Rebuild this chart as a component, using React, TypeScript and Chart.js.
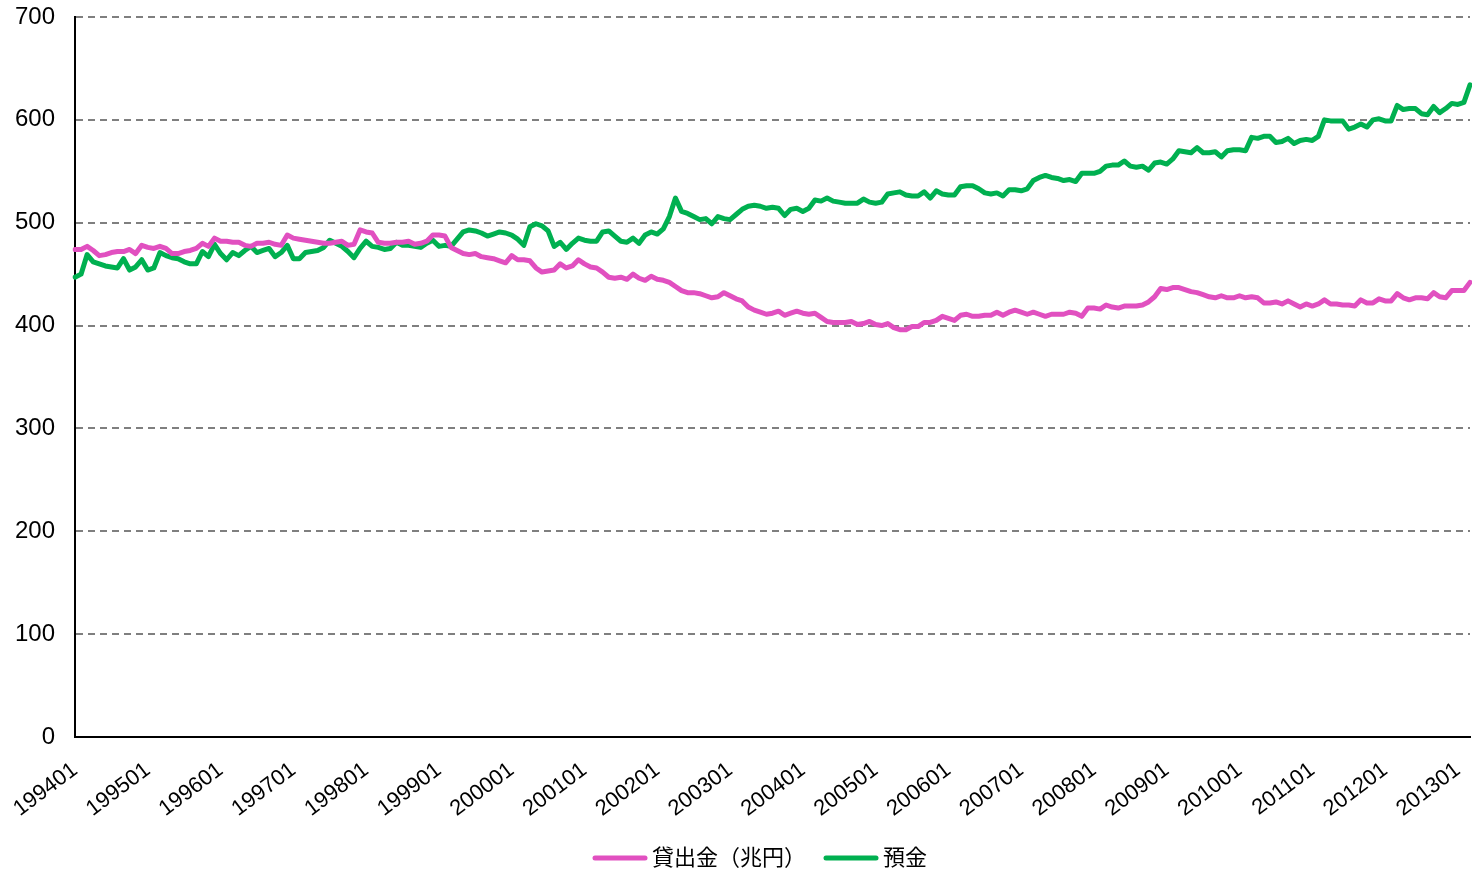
import React, { useEffect, useRef } from "react";
import { Chart, registerables } from "chart.js";

Chart.register(...registerables);

// Monthly categories 199401 .. 201303
const years: number[] = [1994, 1995, 1996, 1997, 1998, 1999, 2000, 2001, 2002, 2003, 2004, 2005, 2006, 2007, 2008, 2009, 2010, 2011, 2012, 2013];
const months: string[] = ["01", "02", "03", "04", "05", "06", "07", "08", "09", "10", "11", "12"];
const lastMonthCount = 3; // data for 2013 ends in March

const categories: string[] = [];
years.forEach((y, yi) => {
  const n = yi === years.length - 1 ? lastMonthCount : 12;
  for (let k = 0; k < n; k++) categories.push(`${y}${months[k]}`);
});

// 貸出金（兆円）
const loans: number[] = [
  474, 474, 477, 473, 468, 469, 471, 472, 472, 474, 470, 478,
  476, 475, 477, 475, 470, 470, 472, 473, 475, 480, 477, 485,
  482, 482, 481, 481, 478, 477, 480, 480, 481, 479, 478, 488,
  485, 484, 483, 482, 481, 480, 480, 481, 482, 478, 479, 493,
  491, 490, 481, 480, 480, 481, 481, 482, 479, 480, 482, 488,
  488, 487, 476, 473, 470, 469, 470, 467, 466, 465, 463, 461,
  468, 464, 464, 463, 456, 452, 453, 454, 460, 456, 458, 464,
  460, 457, 456, 452, 447, 446, 447, 445, 450, 446, 444, 448,
  445, 444, 442, 438, 434, 432, 432, 431, 429, 427, 428, 432,
  429, 426, 424, 418, 415, 413, 411, 412, 414, 410, 412, 414,
  412, 411, 412, 408, 404, 403, 403, 403, 404, 401, 402, 404,
  401, 400, 402, 398, 396, 396, 399, 399, 403, 403, 405, 409,
  407, 405, 410, 411, 409, 409, 410, 410, 413, 410, 413, 415,
  413, 411, 413, 411, 409, 411, 411, 411, 413, 412, 409, 417,
  417, 416, 420, 418, 417, 419, 419, 419, 420, 423, 428, 436,
  435, 437, 437, 435, 433, 432, 430, 428, 427, 429, 427, 427,
  429, 427, 428, 427, 422, 422, 423, 421, 424, 421, 418, 421,
  419, 421, 425, 421, 421, 420, 420, 419, 425, 422, 422, 426,
  424, 424, 431, 427, 425, 427, 427, 426, 432, 428, 427, 434,
  434, 434, 442,
];

// 預金
const deposits: number[] = [
  447, 450, 469, 462, 460, 458, 457, 456, 465, 454, 457, 464,
  454, 456, 471, 468, 466, 465, 462, 460, 460, 472, 467, 479,
  470, 464, 471, 468, 473, 477, 471, 473, 475, 467, 471, 478,
  465, 465, 471, 472, 473, 476, 483, 480, 477, 472, 466, 475,
  482, 477, 476, 474, 475, 481, 478, 478, 477, 476, 480, 483,
  477, 478, 477, 484, 491, 493, 492, 490, 487, 489, 491, 490,
  488, 484, 478, 496, 499, 497, 492, 477, 481, 474, 480, 485,
  483, 482, 482, 491, 492, 487, 482, 481, 485, 480, 488, 491,
  489, 494, 506, 524, 511, 509, 506, 503, 504, 499, 506, 504,
  503, 508, 513, 516, 517, 516, 514, 515, 514, 507, 513, 514,
  511, 514, 522, 521, 524, 521, 520, 519, 519, 519, 523, 520,
  519, 520, 528, 529, 530, 527, 526, 526, 530, 524, 531, 528,
  527, 527, 535, 536, 536, 533, 529, 528, 529, 526, 532, 532,
  531, 533, 541, 544, 546, 544, 543, 541, 542, 540, 548, 548,
  548, 550, 555, 556, 556, 560, 555, 554, 555, 551, 558, 559,
  557, 562, 570, 569, 568, 573, 568, 568, 569, 564, 570, 571,
  571, 570, 583, 582, 584, 584, 578, 579, 582, 577, 580, 581,
  580, 584, 600, 599, 599, 599, 591, 593, 596, 593, 600, 601,
  599, 599, 614, 610, 611, 611, 606, 605, 613, 607, 611, 616,
  615, 617, 634,
];

const seriesNames: string[] = ["貸出金（兆円）", "預金"];
const seriesColors: string[] = ["#E150C0", "#00B050"];
const yTicks: number[] = [0, 100, 200, 300, 400, 500, 600, 700];

const FONT = "'Liberation Sans', Arial, 'Noto Sans CJK JP', sans-serif";

// Legend drawn below the axis labels, using the chart's own datasets
const bottomLegend = {
  id: "bottomLegend",
  afterDraw: (chart: any) => {
    const ctx = chart.ctx;
    const y = 858;
    const lineLen = 50;
    const textGap = 7;
    const itemGap = 20;
    ctx.save();
    ctx.font = `22px ${FONT}`;
    ctx.textBaseline = "middle";
    ctx.textAlign = "left";
    let x = 595;
    chart.data.datasets.forEach((ds: any) => {
      ctx.strokeStyle = ds.borderColor;
      ctx.lineWidth = 5;
      ctx.lineCap = "round";
      ctx.beginPath();
      ctx.moveTo(x, y);
      ctx.lineTo(x + lineLen, y);
      ctx.stroke();
      x += lineLen + textGap;
      ctx.fillStyle = "#000";
      ctx.fillText(ds.label, x, y + 1);
      x += ctx.measureText(ds.label).width + itemGap;
    });
    ctx.restore();
  },
};

export default function App() {
  const canvasRef = useRef<HTMLCanvasElement | null>(null);

  useEffect(() => {
    document.body.style.margin = "0";
    const canvas = canvasRef.current;
    if (!canvas) return;
    const chart = new Chart(canvas, {
      type: "line",
      data: {
        labels: categories,
        datasets: [
          {
            label: seriesNames[0],
            data: loans,
            borderColor: seriesColors[0],
            backgroundColor: seriesColors[0],
            borderWidth: 5,
            pointRadius: 0,
            tension: 0,
            borderCapStyle: "round",
            borderJoinStyle: "round",
          },
          {
            label: seriesNames[1],
            data: deposits,
            borderColor: seriesColors[1],
            backgroundColor: seriesColors[1],
            borderWidth: 5,
            pointRadius: 0,
            tension: 0,
            borderCapStyle: "round",
            borderJoinStyle: "round",
          },
        ],
      },
      options: {
        animation: false,
        responsive: false,
        maintainAspectRatio: false,
        layout: { padding: { left: 0, right: 2, top: 17, bottom: 0 } },
        plugins: {
          legend: { display: false },
          tooltip: { enabled: false },
        },
        scales: {
          x: {
            type: "category",
            offset: false,
            grid: { display: false, drawTicks: false },
            border: { display: true, color: "#000", width: 2 },
            ticks: {
              autoSkip: false,
              minRotation: 37,
              maxRotation: 37,
              padding: 20,
              color: "#000",
              font: { family: FONT, size: 22 },
              callback: (_v: any, idx: number) => {
                const c = categories[idx];
                return c && c.endsWith("01") ? c : "";
              },
            },
            afterFit: (s: any) => {
              s.height = 136;
              s.paddingLeft = 0;
              s.paddingRight = 0;
            },
          },
          y: {
            min: 0,
            max: 700,
            afterBuildTicks: (s: any) => {
              s.ticks = yTicks.map((v) => ({ value: v }));
            },
            grid: {
              color: "#7F7F7F",
              lineWidth: 2,
              drawTicks: false,
            },
            border: { display: true, color: "#000", width: 2, dash: [7, 5] },
            ticks: {
              padding: 20,
              color: "#000",
              font: { family: FONT, size: 24 },
            },
            afterFit: (s: any) => {
              s.width = 75;
              s.paddingTop = 0;
              s.paddingBottom = 0;
            },
          },
        },
      },
      plugins: [bottomLegend],
    } as any);
    return () => chart.destroy();
  }, []);

  return (
    <div style={{ width: 1472, height: 873 }}>
      <canvas ref={canvasRef} width={1472} height={873} style={{ display: "block" }} />
    </div>
  );
}
